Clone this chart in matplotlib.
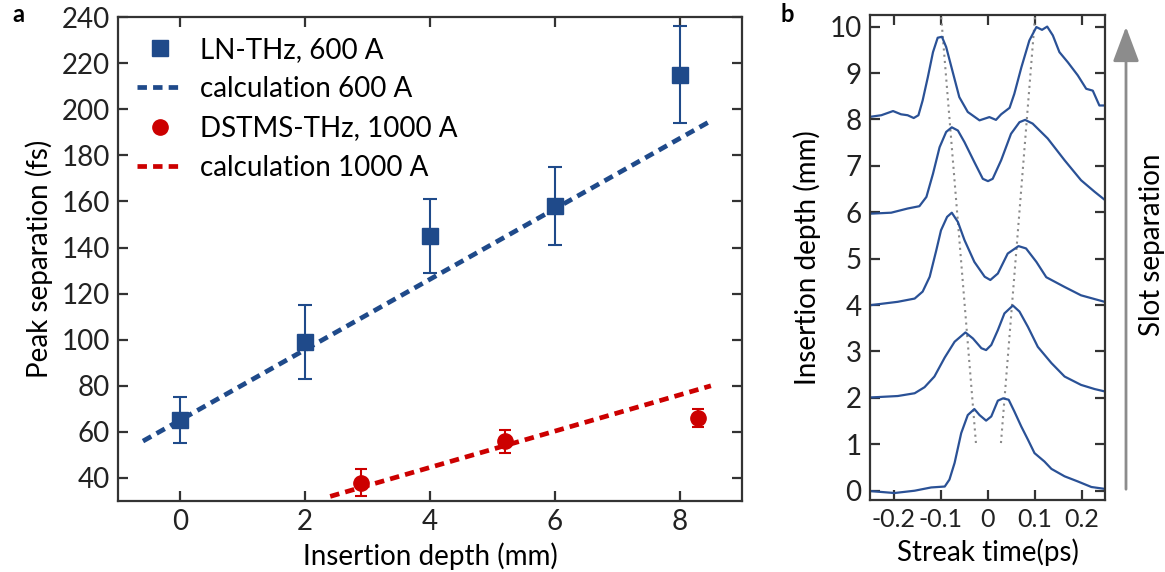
import matplotlib.pyplot as plt
from matplotlib.lines import Line2D
from matplotlib.patches import FancyArrowPatch

plt.rcParams["font.family"] = ["Lato", "DejaVu Sans"]
plt.rcParams["font.size"] = 20

BLUE = "#1f4a8a"
RED = "#cc0000"
TRACE = "#2a5196"
AXC = "#333333"

# panel a: measured peak separation
ln_depth = [0, 2, 4, 6, 8]
ln_sep = [65, 99, 145, 158, 215]
ln_err = [10, 16, 16, 17, 21]

dstms_depth = [2.9, 5.2, 8.3]
dstms_sep = [38, 56, 66]
dstms_err = [6, 5, 4]

# calculation lines (end points)
calc600_x = [-0.6, 8.5]
calc600_y = [56, 195]
calc1000_x = [2.4, 8.5]
calc1000_y = [32, 80]

# panel b: streaked profiles (time in ps, curve height)
t_0 = [-0.247, -0.198, -0.155, -0.12, -0.091, -0.081, -0.07, -0.056, -0.042, -0.028,
       -0.017, -0.003, 0.008, 0.022, 0.033, 0.045, 0.057, 0.072, 0.086, 0.1,
       0.121, 0.136, 0.164, 0.192, 0.221, 0.249]
y_0 = [-0.01, -0.05, 0.0, 0.07, 0.09, 0.24, 0.6, 1.24, 1.63, 1.76,
       1.63, 1.51, 1.6, 1.94, 1.99, 1.96, 1.71, 1.38, 1.10, 0.81,
       0.63, 0.47, 0.31, 0.2, 0.08, 0.04]

t_2 = [-0.247, -0.191, -0.155, -0.134, -0.113, -0.091, -0.07, -0.047, -0.031, -0.013,
       -0.003, 0.008, 0.022, 0.036, 0.054, 0.068, 0.086, 0.107, 0.136, 0.164,
       0.199, 0.228, 0.249]
y_2 = [2.01, 2.04, 2.1, 2.23, 2.46, 2.87, 3.21, 3.41, 3.28, 3.07,
       3.03, 3.14, 3.46, 3.82, 3.99, 3.86, 3.53, 3.10, 2.75, 2.46,
       2.28, 2.19, 2.14]

t_4 = [-0.247, -0.191, -0.155, -0.138, -0.123, -0.109, -0.099, -0.086, -0.076, -0.063,
       -0.049, -0.028, -0.006, 0.006, 0.022, 0.043, 0.066, 0.082, 0.104, 0.125,
       0.164, 0.199, 0.249]
y_4 = [4.0, 4.07, 4.14, 4.29, 4.61, 5.18, 5.61, 5.9, 5.99, 5.79,
       5.40, 4.93, 4.61, 4.54, 4.68, 5.11, 5.27, 5.22, 4.93, 4.60,
       4.39, 4.21, 4.07]

t_6 = [-0.247, -0.205, -0.17, -0.145, -0.13, -0.116, -0.102, -0.088, -0.076, -0.063,
       -0.049, -0.028, -0.01, 0.001, 0.011, 0.029, 0.05, 0.068, 0.08, 0.096,
       0.128, 0.164, 0.199, 0.228, 0.249]
y_6 = [5.97, 5.99, 6.08, 6.13, 6.33, 6.83, 7.40, 7.73, 7.83, 7.76,
       7.51, 7.08, 6.72, 6.67, 6.72, 7.12, 7.69, 7.94, 7.99, 7.91,
       7.59, 7.12, 6.69, 6.44, 6.27]

t_8 = [-0.247, -0.226, -0.201, -0.184, -0.17, -0.157, -0.147, -0.138, -0.127, -0.116,
       -0.106, -0.097, -0.088, -0.074, -0.06, -0.042, -0.017, 0.004, 0.018, 0.029,
       0.047, 0.057, 0.072, 0.089, 0.104, 0.116, 0.127, 0.139, 0.153, 0.171,
       0.192, 0.21, 0.224, 0.238, 0.249]
y_8 = [8.06, 8.09, 8.18, 8.11, 8.09, 8.03, 8.09, 8.41, 8.91, 9.45,
       9.76, 9.78, 9.56, 9.02, 8.48, 8.16, 7.98, 8.05, 7.99, 8.11,
       8.25, 8.55, 9.12, 9.70, 9.99, 9.93, 10.0, 9.81, 9.45, 9.23,
       8.95, 8.66, 8.62, 8.30, 8.30]

# peak guide lines
guide_left_t = [-0.0985, -0.024]
guide_right_t = [0.101, 0.028]
guide_y = [10.2, 0.95]


def style_axes(ax):
    for s in ax.spines.values():
        s.set_color(AXC)
        s.set_linewidth(1.6)
    ax.tick_params(direction="in", length=7, width=1.6, color=AXC,
                   top=True, right=True, labelcolor="#222222", pad=6)


fig = plt.figure(figsize=(11.65, 5.72), dpi=100)

# ---- panel a
ax = fig.add_axes([0.1013, 0.1241, 0.5357, 0.8459])
ax.plot(calc600_x, calc600_y, color=BLUE, lw=3.4, ls=(0, (2.0, 1.3)))
ax.plot(calc1000_x, calc1000_y, color=RED, lw=3.4, ls=(0, (2.0, 1.3)))
ax.errorbar(ln_depth, ln_sep, yerr=ln_err, fmt="s", color=BLUE, ms=11,
            elinewidth=1.5, capsize=5, capthick=1.5)
ax.errorbar(dstms_depth, dstms_sep, yerr=dstms_err, fmt="o", color=RED, ms=11,
            elinewidth=1.5, capsize=4, capthick=1.5)
ax.set_xlim(-1, 9)
ax.set_ylim(30, 240)
ax.set_xticks([0, 2, 4, 6, 8])
ax.set_yticks(range(40, 241, 20))
ax.set_xlabel("Insertion depth (mm)", labelpad=5)
ax.set_ylabel("Peak separation (fs)", labelpad=6)
style_axes(ax)

handles = [
    Line2D([], [], color=BLUE, marker="s", ls="none", ms=11),
    Line2D([], [], color=BLUE, lw=3.4, ls=(0, (2.0, 1.3))),
    Line2D([], [], color=RED, marker="o", ls="none", ms=11),
    Line2D([], [], color=RED, lw=3.4, ls=(0, (2.0, 1.3))),
]
labels = ["LN-THz, 600 A", "calculation 600 A",
          "DSTMS-THz, 1000 A", "calculation 1000 A"]
ax.legend(handles, labels, loc="upper left", frameon=False,
          handlelength=1.65, handletextpad=0.6, labelspacing=0.48,
          borderaxespad=0.3, bbox_to_anchor=(0.0, 1.0))

# ---- panel b
bx = fig.add_axes([0.7468, 0.1259, 0.2017, 0.8479])
bx.plot(guide_left_t, guide_y, color="#8a8a8a", lw=1.5, ls=(0, (1, 2)))
bx.plot(guide_right_t, guide_y, color="#8a8a8a", lw=1.5, ls=(0, (1, 2)))
for tt, yy in [(t_0, y_0), (t_2, y_2), (t_4, y_4), (t_6, y_6), (t_8, y_8)]:
    bx.plot(tt, yy, color=TRACE, lw=1.6)
bx.set_xlim(-0.25, 0.25)
bx.set_ylim(-0.2, 10.25)
bx.set_xticks([-0.2, -0.1, 0, 0.1, 0.2])
bx.set_xticklabels(["-0.2", "-0.1", "0", "0.1", "0.2"])
bx.set_yticks(range(0, 11))
bx.set_xlabel("Streak time(ps)", labelpad=5)
bx.set_ylabel("Insertion depth (mm)", labelpad=6)
style_axes(bx)
bx.tick_params(axis="x", labelsize=18)

# arrow and its label at the right edge
fig.patches.append(FancyArrowPatch(
    (1126 / 1165, 1 - 492 / 572), (1126 / 1165, 1 - 24 / 572),
    transform=fig.transFigure, arrowstyle="-|>,head_length=1.2,head_width=0.45",
    mutation_scale=18, color="#8c8c8c", lw=2))
fig.text(1152 / 1165, 1 - 245 / 572, "Slot separation", rotation=90,
         ha="center", va="center")

fig.text(12 / 1165, 1 - 14 / 572, "a", fontweight="bold", fontsize=17,
         ha="left", va="center")
fig.text(780 / 1165, 1 - 14 / 572, "b", fontweight="bold", fontsize=17,
         ha="left", va="center")

fig.savefig("out.png", dpi=100)
